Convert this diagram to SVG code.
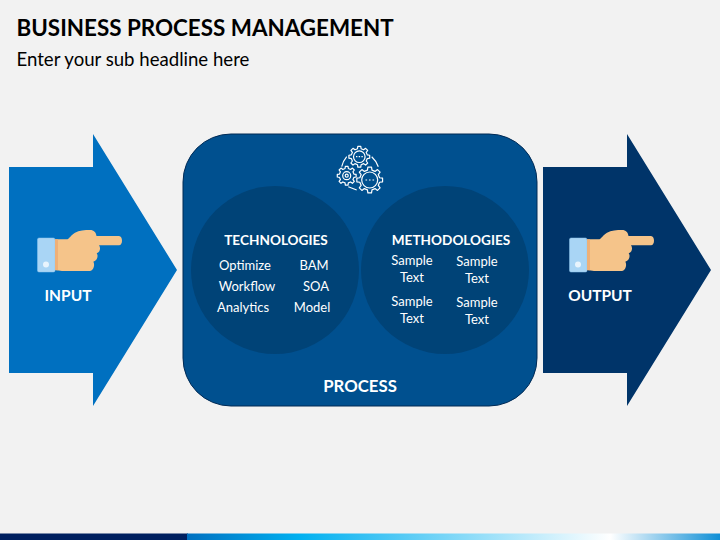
<svg xmlns="http://www.w3.org/2000/svg" width="720" height="540" viewBox="0 0 720 540">
<style>
text{font-family:Lato,"Open Sans",sans-serif;fill:#fff;text-anchor:middle}
.h{font-weight:700;font-size:13.600px}
.b{font-size:13px}
.big{font-weight:700;font-size:15.500px}
.w{fill:none;stroke:#fff;stroke-width:1.200}
.gear{fill:#00508f;stroke:#fff;stroke-width:1.200;vector-effect:non-scaling-stroke;stroke-linejoin:round}
</style>
<defs>
<linearGradient id="g"><stop offset="0" stop-color="#0070c0"/><stop offset="0.21" stop-color="#00b0f0"/><stop offset="0.794" stop-color="#ffffff"/><stop offset="1" stop-color="#0f8fd6"/></linearGradient>
<polygon id="gear" class="gear" points="76,-17.500 99,-14 99,14 76,17.500 66,41 80,60 60,80 41,66 17.500,76 14,99 -14,99 -17.500,76 -41,66 -60,80 -80,60 -66,41 -76,17.500 -99,14 -99,-14 -76,-17.500 -66,-41 -80,-60 -60,-80 -41,-66 -17.500,-76 -14,-99 14,-99 17.500,-76 41,-66 60,-80 80,-60 66,-41"/>
<g id="hand">
<rect x="37.500" y="238" width="17.500" height="34" rx="1.500" fill="#a9d5f5" stroke="#8cc4ee" stroke-width="0.500"/>
<circle cx="46" cy="264.500" r="3" fill="#e8f4fd"/>
<path d="M55 239.300H66.700C69 239.300 71 235 75 232.700C79 230.500 85 230 90 230C94 230 96 232.500 96.500 236H119C121 236 122 238.500 122 240.700S121 245.300 119 245.300H99C101 248 100 252.500 96.700 253.300C98.500 255.500 97.500 260.500 93.300 261.700C95 264 94 270.500 90 271H62L55 270Z" fill="#f5c48a"/>
<path d="M55 239.300h3v30.900h-3z" fill="#eeb078"/>
</g>
</defs>
<rect width="720" height="540" fill="#f2f2f2"/>
<rect x="0" y="533.500" width="188" height="6.500" fill="#002060"/>
<rect x="187" y="533.500" width="533" height="6.500" fill="url(#g)"/>
<text x="16.500" y="36" style="text-anchor:start;font-weight:700;font-size:22.400px;fill:#000">BUSINESS PROCESS MANAGEMENT</text>
<text x="16.500" y="66" style="text-anchor:start;font-size:18.600px;fill:#000">Enter your sub headline here</text>
<g id="input">
<path d="M9 167H93V134L177 270L93 406V373H9Z" fill="#0070c0"/>
<use href="#hand"/>
<text x="68" y="301" class="big">INPUT</text>
</g>
<g id="process">
<rect x="183" y="134" width="354" height="272" rx="48" fill="#00508f" stroke="#002a55" stroke-width="1"/>
<circle cx="275" cy="270" r="84" fill="#004377"/>
<circle cx="445" cy="270" r="84" fill="#004377"/>
<g id="gears">
<use href="#gear" transform="translate(359.300 156.700) scale(.105)"/>
<circle cx="359.300" cy="156.700" r="5.800" class="w"/>
<use href="#gear" transform="translate(346.700 175.700) scale(.095)"/>
<circle cx="346.700" cy="175.700" r="4" class="w"/>
<circle cx="346.700" cy="175.700" r="1.500" class="w"/>
<use href="#gear" transform="translate(369.700 180) scale(.13)"/>
<circle cx="369.700" cy="180" r="8" class="w"/>
<path d="M341.700 166.700A24 24 0 0 1 346.700 156.700M371.700 156.700A24 24 0 0 1 378.300 166.700M348.300 186.700L356.700 190" class="w"/>
<path d="M356 156.700h1.400M358.700 156.700h1.400M361.400 156.700h1.400M365.500 180h1.600M369 180h1.600M372.500 180h1.600" class="w"/>
</g>
<text x="276" y="244.500" class="h">TECHNOLOGIES</text>
<text x="245" y="270" class="b">Optimize</text>
<text x="314" y="270" class="b">BAM</text>
<text x="247" y="291" class="b">Workflow</text>
<text x="316" y="291" class="b">SOA</text>
<text x="243" y="312" class="b">Analytics</text>
<text x="312" y="312" class="b">Model</text>
<text x="451" y="244.500" class="h">METHODOLOGIES</text>
<text x="412" y="265" class="b">Sample</text>
<text x="412" y="282" class="b">Text</text>
<text x="477" y="266" class="b">Sample</text>
<text x="477" y="283" class="b">Text</text>
<text x="412" y="305.500" class="b">Sample</text>
<text x="412" y="322.500" class="b">Text</text>
<text x="477" y="306.500" class="b">Sample</text>
<text x="477" y="323.500" class="b">Text</text>
<text x="360" y="392" class="big" style="font-size:16.800px">PROCESS</text>
</g>
<g id="output">
<path d="M543 167H627V134L711 270L627 406V373H543Z" fill="#003469"/>
<use href="#hand" x="532"/>
<text x="600" y="301" class="big">OUTPUT</text>
</g>
<g id="connectors"/>
</svg>
